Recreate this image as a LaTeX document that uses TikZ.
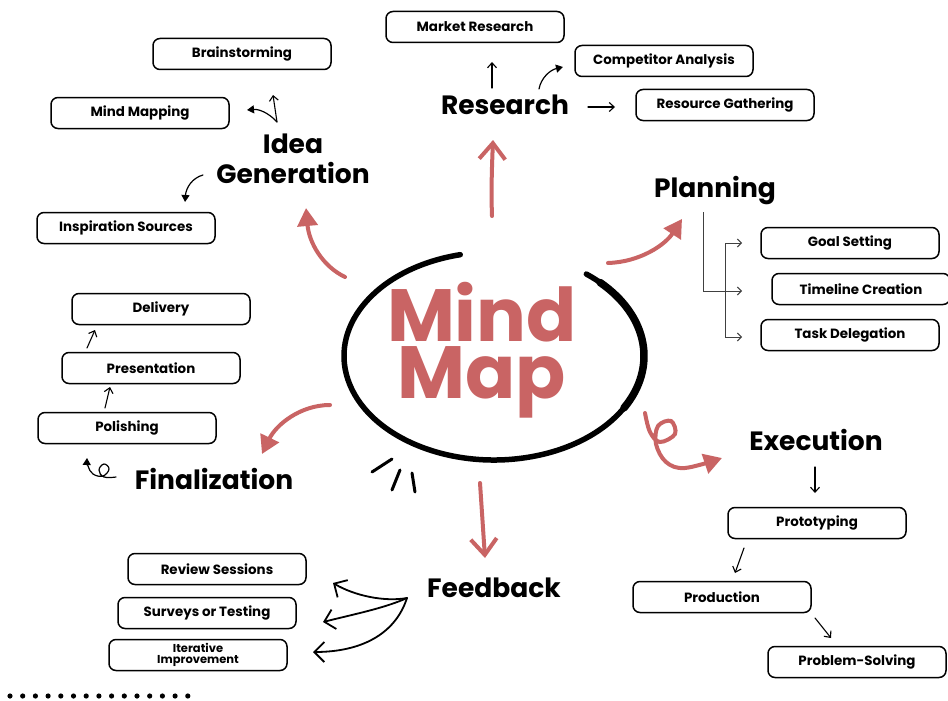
\documentclass[tikz,border=0pt]{standalone}
\usepackage{fontspec}
\setmainfont{Poppins}
\usetikzlibrary{arrows.meta}
\definecolor{mred}{RGB}{201,100,100}
\tikzset{
  box/.style={draw, line width=1.5pt, rounded corners=7pt, minimum width=178pt, minimum height=31pt, inner sep=0pt, fill=white, font=\bfseries\fontsize{13.4}{14}\selectfont},
  hlabel/.style={inner sep=0pt, anchor=base, font=\bfseries\fontsize{26.5}{28}\selectfont},
  mmtext/.style={inner sep=0pt, align=center, text=mred, font=\bfseries\fontsize{74}{57}\selectfont},
  sarrow/.style={-{Straight Barb[length=5pt,width=9pt]}, line width=1.1pt, line cap=round},
  sfill/.style={-{Triangle[length=7pt,width=8pt]}, line width=1.2pt, line cap=round},
  fbarrow/.style={-{Straight Barb[length=10pt,width=20pt]}, line width=1.8pt, line cap=round},
  redfill/.style={-{Triangle[length=18pt,width=20pt]}, draw=mred, line width=4pt, line cap=round},
  redbarb/.style={-{Straight Barb[length=16pt,width=26pt]}, draw=mred, line width=4pt, line cap=round},
  plline/.style={draw=black!75, line width=1pt},
}
\begin{document}
\begin{tikzpicture}[x=1pt,y=-1pt]
\useasboundingbox (0,0) rectangle (948,701);
\fill[white] (0,0) rectangle (948,701);

% central ellipse
\coordinate (ecen) at (494,356);
\draw[line width=5.5pt, line cap=round] (ecen) ++(257:150 and 104) arc[start angle=257, end angle=-52, x radius=150, y radius=104];
\draw[line width=7.5pt, line cap=round] (ecen) ++(30:150 and 104) arc[start angle=30, end angle=-45, x radius=150, y radius=104];
\node[mmtext, anchor=base] (mindmap) at (482,398) {Mind\\Map};

% little strokes
\draw[line width=3pt, line cap=round] (372,472) -- (392,459);
\draw[line width=3pt, line cap=round] (392,490) -- (400,470);
\draw[line width=3pt, line cap=round] (415,492) -- (412,473);

% headers
\node[hlabel] (research) at (505,114) {Research};
\node[hlabel] (idea) at (293,153) {Idea};
\node[hlabel] (generation) at (293,183) {Generation};
\node[hlabel] (planning) at (715,197) {Planning};
\node[hlabel] (execution) at (816,450) {Execution};
\node[hlabel] (feedback) at (494,597) {Feedback};
\node[hlabel] (finalization) at (214,489) {Finalization};

% boxes
\node[box] (market) at (475,27) {Market Research};
\node[box] (competitor) at (664,61) {Competitor Analysis};
\node[box] (resource) at (725,105) {Resource Gathering};
\node[box] (brain) at (242,54) {Brainstorming};
\node[box] (mindmapping) at (140,113) {Mind Mapping};
\node[box] (inspiration) at (126,228) {Inspiration Sources};
\node[box] (goal) at (850,243) {Goal Setting};
\node[box] (timeline) at (861,289) {Timeline Creation};
\node[box] (task) at (850,335) {Task Delegation};
\node[box] (delivery) at (161,309) {Delivery};
\node[box] (presentation) at (151,368) {Presentation};
\node[box] (polishing) at (127,428) {Polishing};
\node[box] (review) at (217,569) {Review Sessions};
\node[box] (surveys) at (207,613) {Surveys or Testing};
\node[box, align=center, font=\bfseries\fontsize{11.5}{11.5}\selectfont] (iterative) at (198,655) {Iterative\\Improvement};
\node[box] (prototyping) at (817,523) {Prototyping};
\node[box] (production) at (722,597) {Production};
\node[box] (problem) at (857,662) {Problem-Solving};

% coordinates for connector ends
\coordinate (rA1) at (492,88);  \coordinate (rA2) at (492,62);
\coordinate (rB1) at (539,89);  \coordinate (rB2) at (563,67);
\coordinate (rC1) at (588,107); \coordinate (rC2) at (615,107);
\coordinate (iA0) at (277,122); \coordinate (iA1) at (273,95); \coordinate (iA2) at (247,110);
\coordinate (iB1) at (203,175); \coordinate (iB2) at (185,202);
\coordinate (pTop) at (703,212); \coordinate (pMid) at (742,291);
\coordinate (pG) at (742,243); \coordinate (pT) at (742,337); \coordinate (pX) at (725,337);
\coordinate (fA1) at (87,348); \coordinate (fA2) at (95,330);
\coordinate (fB1) at (105,408); \coordinate (fB2) at (110,387);
\coordinate (fbJ) at (407,598);
\coordinate (fb1) at (333,583); \coordinate (fb2) at (323,622); \coordinate (fb3) at (313,652);
\coordinate (eA1) at (815,467); \coordinate (eA2) at (815,493);
\coordinate (eB1) at (744,548); \coordinate (eB2) at (735,573);
\coordinate (eC1) at (815,618); \coordinate (eC2) at (831,638);

% black small arrows
\draw[sarrow] (rA1) -- (rA2);
\draw[sfill] (rB1) .. controls (541,78) and (550,70) .. (rB2);
\draw[sarrow] (rC1) -- (rC2);
\draw[sarrow] (iA0) -- (iA1);
\draw[sfill] (iA0) .. controls (268,112) and (258,109) .. (iA2);
\draw[sfill] (iB1) .. controls (192,178) and (186,188) .. (iB2);
\draw[plline, -{Straight Barb[length=4pt,width=8pt]}] (pTop) |- (pMid);
\draw[plline, {Straight Barb[length=4pt,width=8pt]}-{Straight Barb[length=4pt,width=8pt]}] (pG) -| (pX) -- (pT);
\draw[sarrow] (fA1) -- (fA2);
\draw[sarrow] (fB1) -- (fB2);
\draw[sfill] plot[smooth, tension=0.7] coordinates {(116,477) (104,477) (99,470) (104,464) (109,469) (103,476) (93,474) (88,466) (87,458)};
\draw[fbarrow] (fbJ) .. controls (385,602) and (355,596) .. (fb1);
\draw[fbarrow] (fbJ) .. controls (385,608) and (355,614) .. (fb2);
\draw[fbarrow] (fbJ) .. controls (395,635) and (360,652) .. (fb3);
\draw[sarrow] (eA1) -- (eA2);
\draw[sarrow] (eB1) -- (eB2);
\draw[sarrow] (eC1) -- (eC2);

% red connectors
\coordinate (cR1) at (492,216); \coordinate (cR2) at (493,140);
\coordinate (cI1) at (345,277); \coordinate (cI2) at (306,208);
\coordinate (cP1) at (608,263); \coordinate (cP2) at (682,219);
\coordinate (cF1) at (330,405); \coordinate (cF2) at (262,454);
\coordinate (cB1) at (480,483); \coordinate (cB2) at (485,558);
\draw[redbarb] (cR1) .. controls (491,190) and (492,165) .. (cR2);
\draw[redfill] (cI1) .. controls (322,266) and (309,242) .. (cI2);
\draw[redfill] (cP1) .. controls (640,262) and (665,245) .. (cP2);
\draw[redfill] (cF1) .. controls (300,405) and (276,425) .. (cF2);
\draw[redbarb] (cB1) -- (cB2);
\draw[redfill] plot[smooth, tension=0.6] coordinates {(645,413) (650,432) (660,442) (675,434) (671,421) (658,426) (656,444) (666,462) (685,468) (722,458)};

% dots
\foreach \i in {0,...,14} \fill ({10+12.7*\i},696) circle (2.6pt);
\end{tikzpicture}
\end{document}
